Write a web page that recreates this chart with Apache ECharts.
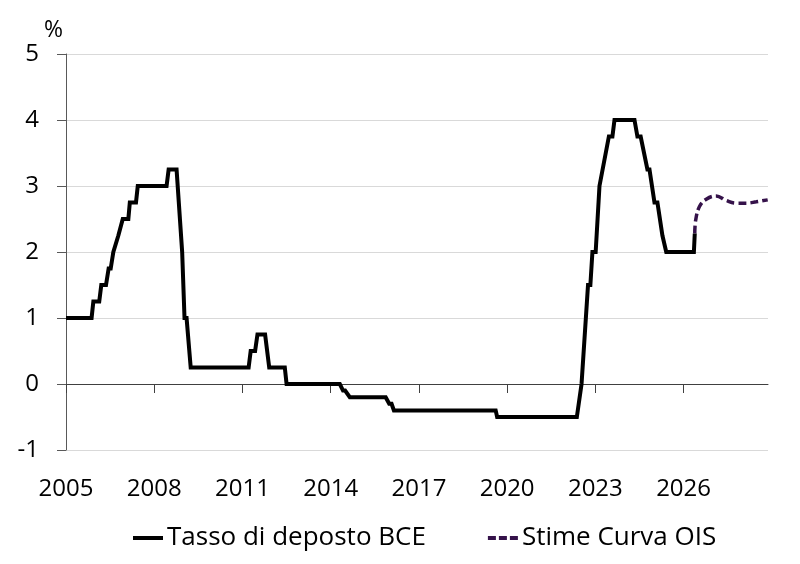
<!DOCTYPE html>
<html>
<head>
<meta charset="utf-8">
<script src="https://cdn.jsdelivr.net/npm/echarts@6/dist/echarts.min.js"></script>
<style>
  html, body { margin: 0; padding: 0; background: #fff; }
  #chart { width: 800px; height: 564px; }
</style>
</head>
<body>
<div id="chart"></div>
<script>
// ECB deposit rate (decimal years)
const depositYears = [
  2005.0, 2005.87, 2005.93, 2006.13, 2006.20, 2006.36, 2006.45, 2006.52, 2006.61,
  2006.66, 2006.78, 2006.83, 2006.93, 2007.12, 2007.17, 2007.38, 2007.44, 2008.42,
  2008.49, 2008.76, 2008.95, 2009.03, 2009.10, 2009.24, 2011.21, 2011.28, 2011.43,
  2011.51, 2011.77, 2011.91, 2012.44, 2012.50, 2014.31, 2014.42, 2014.49, 2014.65,
  2015.87, 2015.99, 2016.07, 2016.15, 2019.61, 2019.66, 2022.37, 2022.53, 2022.75,
  2022.83, 2022.90, 2023.01, 2023.14, 2023.46, 2023.58, 2023.65, 2024.33, 2024.43,
  2024.54, 2024.77, 2024.84, 2025.01, 2025.11, 2025.28, 2025.33, 2025.41, 2026.35,
  2026.38
];
const depositRates = [
  1.0, 1.0, 1.25, 1.25, 1.5, 1.5, 1.75, 1.75, 2.0,
  2.0, 2.25, 2.25, 2.5, 2.5, 2.75, 2.75, 3.0, 3.0,
  3.25, 3.25, 2.0, 1.0, 1.0, 0.25, 0.25, 0.5, 0.5,
  0.75, 0.75, 0.25, 0.25, 0.0, 0.0, -0.1, -0.1, -0.2,
  -0.2, -0.3, -0.3, -0.4, -0.4, -0.5, -0.5, 0.0, 1.5,
  1.5, 2.0, 2.0, 3.0, 3.75, 3.75, 4.0, 4.0, 3.75,
  3.75, 3.25, 3.25, 2.75, 2.75, 2.25, 2.25, 2.0, 2.0,
  2.28
];

// OIS curve estimates
const oisYears = [2026.38, 2026.41, 2026.54, 2026.77, 2027.11, 2027.45, 2027.79, 2028.13, 2028.47, 2028.86];
const oisRates = [2.28, 2.48, 2.69, 2.80, 2.85, 2.78, 2.74, 2.74, 2.76, 2.79];

const yearTicks = [2005, 2008, 2011, 2014, 2017, 2020, 2023, 2026];
const rateTicks = [-1, 0, 1, 2, 3, 4, 5];

const FONT = "Open Sans";
const OIS_COLOR = "#35124a";

const chart = echarts.init(document.getElementById("chart"), null, { renderer: "canvas" });

const zip = (xs, ys) => xs.map((x, i) => [x, ys[i]]);

chart.setOption({
  animation: false,
  backgroundColor: "#fff",
  textStyle: { fontFamily: FONT, color: "#000" },
  grid: { left: 66, right: 32, top: 54, bottom: 114, containLabel: false },
  legend: {
    left: 128,
    top: 520,
    itemWidth: 30,
    itemHeight: 4,
    itemGap: 62,
    textStyle: { fontFamily: FONT, fontSize: 26, color: "#000", padding: [0, 0, 0, -1] },
    data: [
      { name: "Tasso di deposto BCE", icon: "path://M0,0H30V4H0Z" },
      { name: "Stime Curva OIS", icon: "path://M0,0H8V4H0Z M11,0H19V4H11Z M22,0H30V4H22Z" },
    ],
  },
  xAxis: [
    {
      // axis line on zero, with ticks only
      type: "value",
      min: 2005,
      max: 2028.87,
      position: "bottom",
      axisLine: { onZero: true, lineStyle: { color: "#404040", width: 1 } },
      axisTick: { show: true, length: 9, customValues: yearTicks, lineStyle: { color: "#404040" } },
      axisLabel: { show: false },
      splitLine: { show: false },
    },
    {
      // labels at the bottom of the plot
      type: "value",
      min: 2005,
      max: 2028.87,
      position: "bottom",
      axisLine: { show: false, onZero: false },
      axisTick: { show: false },
      axisLabel: {
        customValues: yearTicks,
        margin: 27,
        fontSize: 24,
        fontFamily: FONT,
        color: "#000",
        formatter: (v) => String(Math.round(v)),
      },
      splitLine: { show: false },
    },
  ],
  yAxis: {
    type: "value",
    min: rateTicks[0],
    max: rateTicks[rateTicks.length - 1],
    interval: 1,
    name: "%",
    nameLocation: "end",
    nameGap: 20,
    nameTextStyle: { fontFamily: FONT, fontSize: 23, color: "#000", align: "right", verticalAlign: "middle", padding: [0, 3, 0, 0] },
    axisLine: { show: true, onZero: false, lineStyle: { color: "#595959", width: 1 } },
    axisTick: { show: true, length: 9, lineStyle: { color: "#595959" } },
    axisLabel: { margin: 27, fontSize: 24, fontFamily: FONT, color: "#000" },
    splitLine: { show: true, lineStyle: { color: "#d9d9d9", width: 1 } },
  },
  series: [
    {
      name: "Stime Curva OIS",
      type: "line",
      xAxisIndex: 0,
      data: zip(oisYears, oisRates),
      symbol: "none",
      smooth: 0.4,
      lineStyle: { color: OIS_COLOR, width: 3.5, type: [8, 4] },
      itemStyle: { color: OIS_COLOR },
      z: 2,
    },
    {
      name: "Tasso di deposto BCE",
      type: "line",
      xAxisIndex: 0,
      data: zip(depositYears, depositRates),
      symbol: "none",
      lineStyle: { color: "#000", width: 4, join: "miter" },
      itemStyle: { color: "#000" },
      z: 3,
    },
  ],
});
</script>
</body>
</html>
